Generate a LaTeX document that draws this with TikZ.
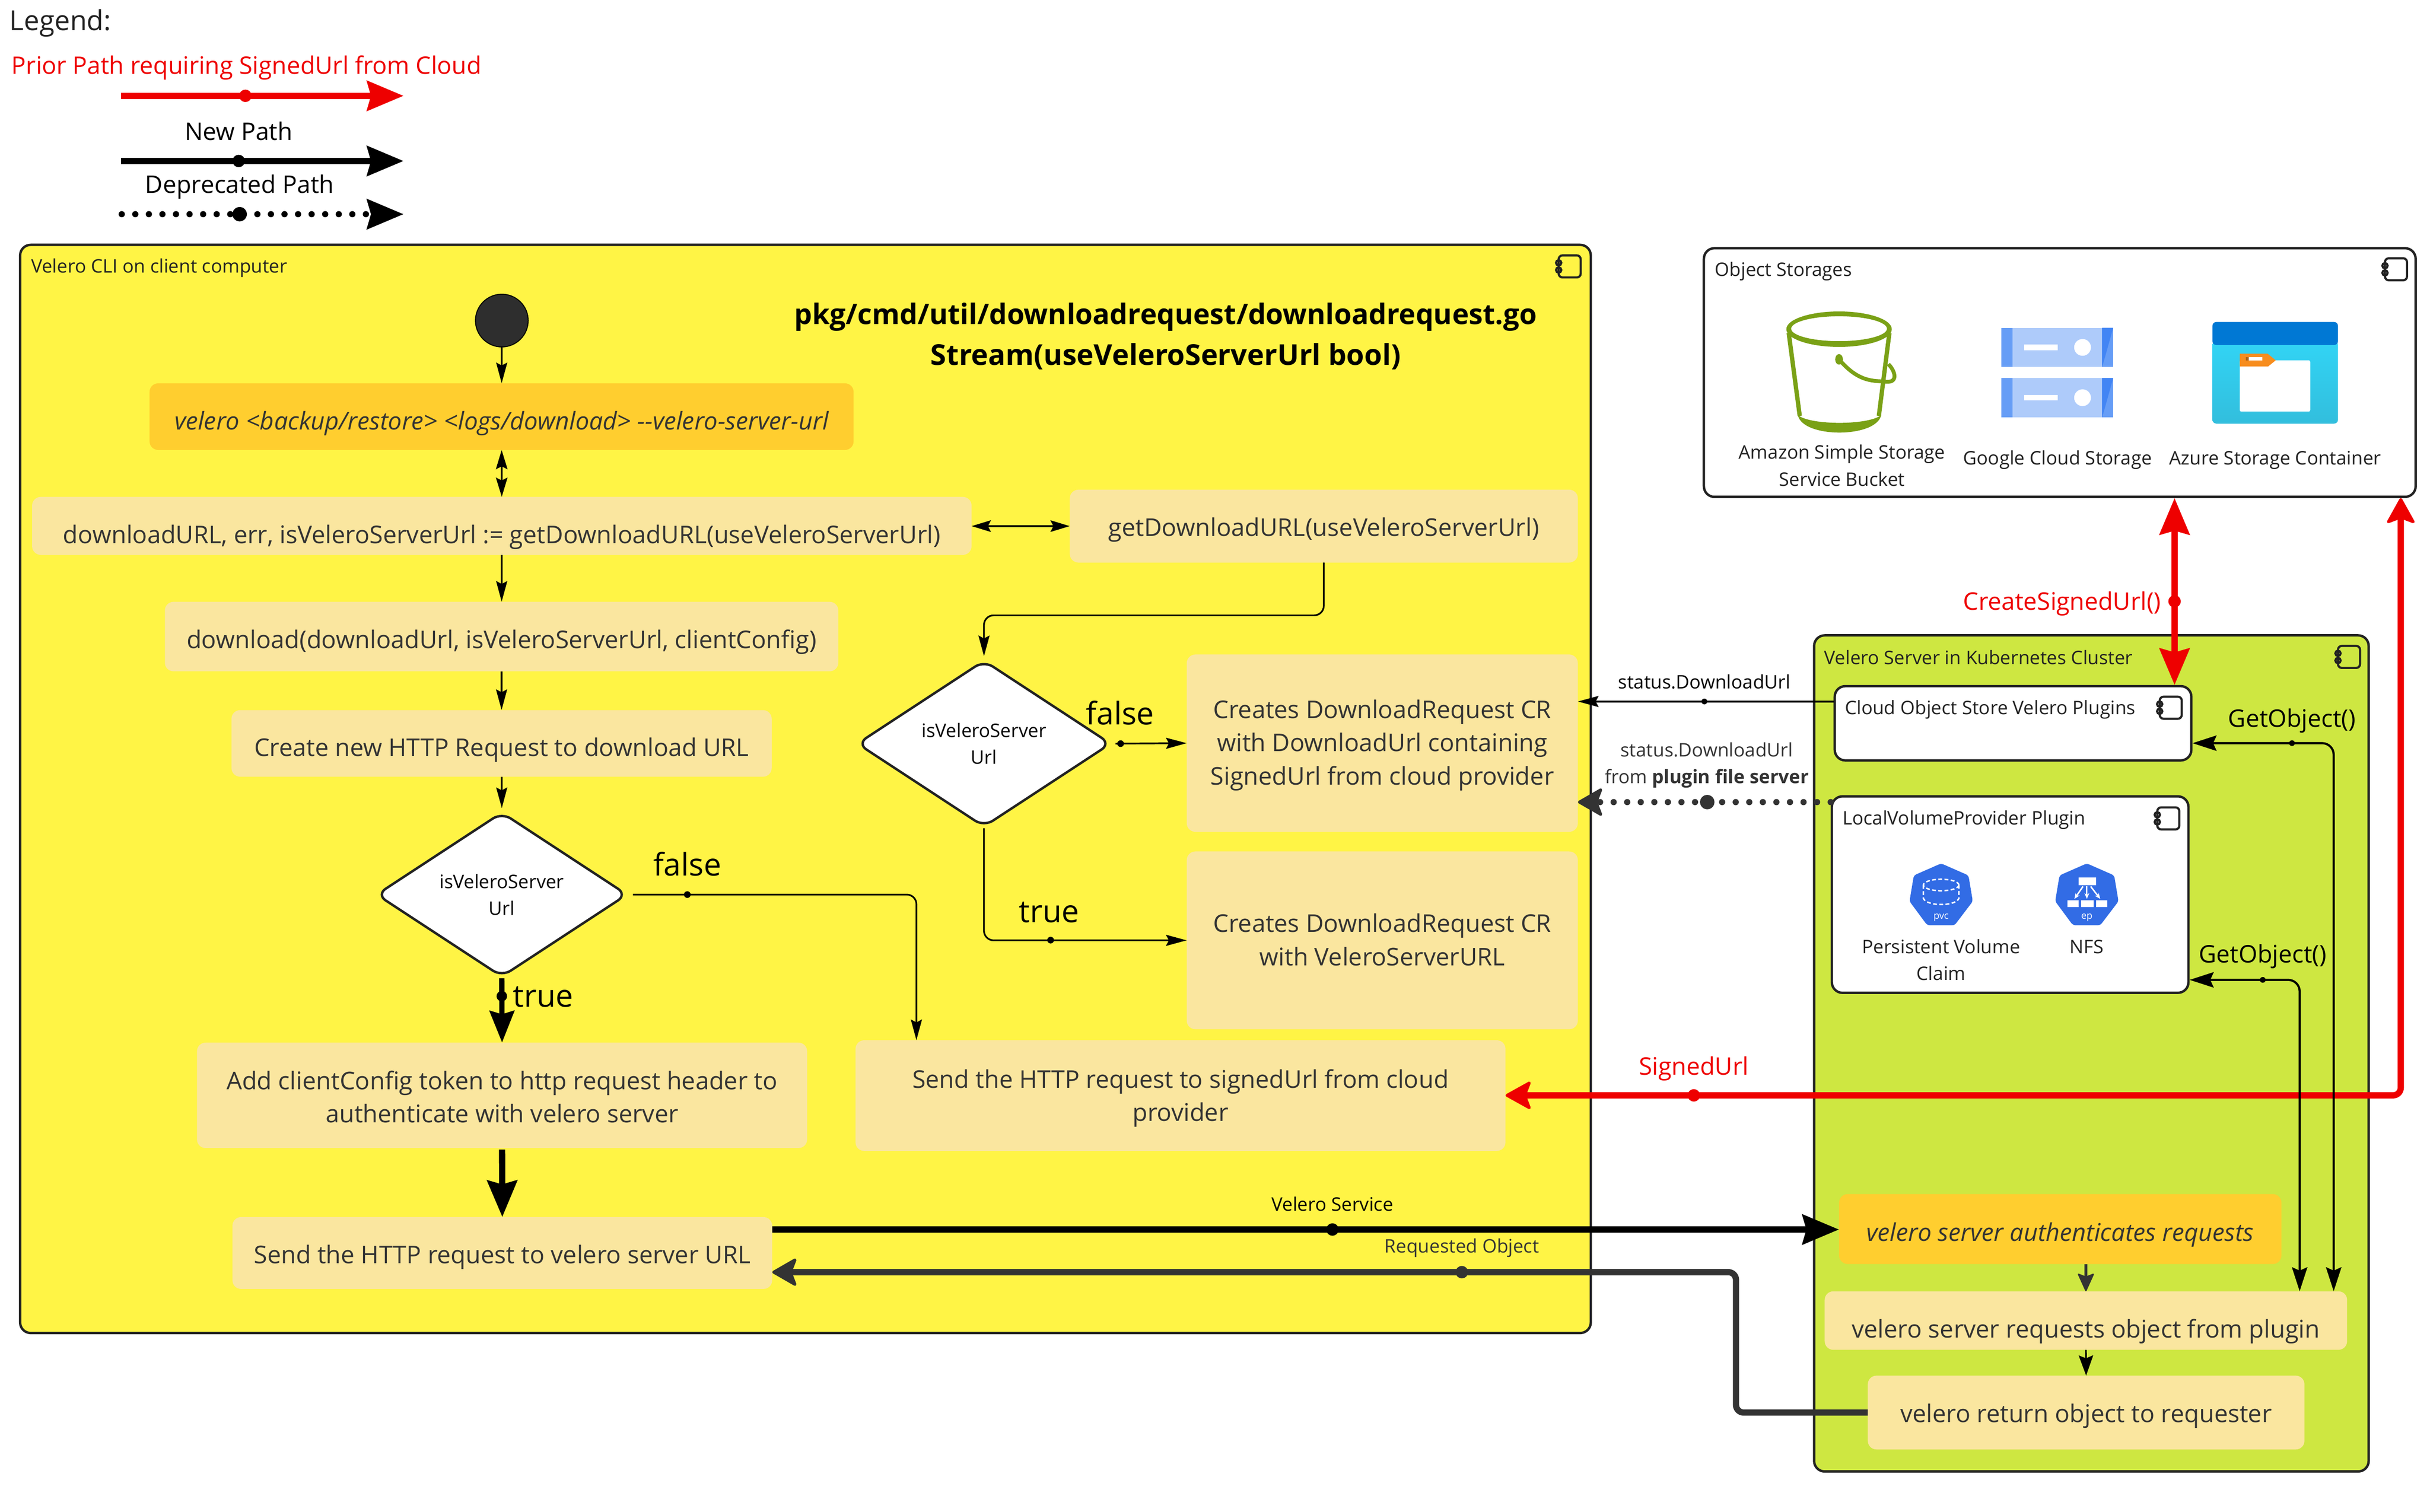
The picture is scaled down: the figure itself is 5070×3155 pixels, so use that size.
\documentclass[tikz,border=0pt]{standalone}
\usepackage{fontspec}
\setmainfont{Open Sans}
\usetikzlibrary{arrows.meta,shapes.geometric,calc}
\definecolor{cyel}{HTML}{FFF445}
\definecolor{cgrn}{HTML}{CEE741}
\definecolor{ccrm}{HTML}{FAE69F}
\definecolor{corg}{HTML}{FFCE2F}
\definecolor{cdk}{HTML}{333333}
\definecolor{cbd}{HTML}{222222}
\definecolor{cred}{HTML}{EE0000}
\definecolor{kblue}{HTML}{326CE5}
\definecolor{cbkt}{HTML}{7AA116}
\definecolor{gl}{HTML}{AECBFA}
\definecolor{gm}{HTML}{669DF6}
\definecolor{gd}{HTML}{4285F4}
\definecolor{azb}{HTML}{0078D4}
\definecolor{azt}{HTML}{32D4F5}
\definecolor{azl}{HTML}{32BEDD}
\definecolor{azo}{HTML}{F78D1E}
\newcommand{\bx}[7][]{%
  \pgfmathsetmacro\bxw{#5-(#3)}\pgfmathsetmacro\bxh{#6-(#4)}%
  \node[minimum width=\bxw pt,minimum height=\bxh pt,inner sep=0pt,#1] (#2) at ({(#3+#5)/2},{(#4+#6)/2}) {#7};}
\newcommand{\tx}[5][]{\node[anchor=base,inner sep=0pt,#1] (#2) at (#3,#4) {#5};}
\newcommand{\compicon}[2]{% right top
  \begin{scope}[shift={(#1,#2)}]
    \draw[cbd,line width=4.5pt,rounded corners=8pt] (-46,0) rectangle (0,46);
    \draw[cbd,line width=4.5pt] (-46,15.5) circle (5.5);
    \draw[cbd,line width=4.5pt] (-46,30.5) circle (5.5);
  \end{scope}}
\newcommand{\kube}[2]{% cx, inner
  \begin{scope}[shift={(#1,0)}]
  \fill[kblue,rounded corners=5pt] (0,1802)--(57,1827)--(66,1881)--(28,1931)--(-29,1931)--(-66,1881)--(-57,1827)--cycle;
  #2
  \end{scope}}
\tikzset{
  f39/.style={font=\fontsize{39}{56}\selectfont},
  f50/.style={font=\fontsize{50.5}{69}\selectfont},
  f51/.style={font=\fontsize{51}{69.5}\selectfont},
  f51i/.style={font=\fontsize{51}{69.5}\selectfont\itshape},
  f58/.style={font=\fontsize{57.5}{72}\selectfont},
  f65/.style={font=\fontsize{65}{80}\selectfont},
  fbig/.style={font=\fontsize{59}{84}\selectfont\bfseries},
  tb/.style={text depth=0pt,text height=#1pt},
  cont/.style={draw=cbd,line width=5pt,rounded corners=22pt},
  flow/.style={fill=ccrm,text=cdk,rounded corners=18pt,align=center,f51},
  flowo/.style={fill=corg,text=cdk,rounded corners=18pt,align=center,f51i},
  dec/.style={diamond,aspect=1.5,draw=cbd,fill=white,line width=5pt,rounded corners=22pt,align=center,f39},
  thinA/.style={draw=black,line width=3.5pt,rounded corners=20pt,-{Stealth[length=43pt,width=23pt,inset=6pt]}},
  thinB/.style={draw=black,line width=3.5pt,{Stealth[length=40pt,width=24pt,inset=6pt]}-{Stealth[length=40pt,width=24pt,inset=6pt]}},
  thinC/.style={draw=black,line width=4.5pt,rounded corners=24pt,{Stealth[length=50pt,width=32pt,inset=7pt]}-{Stealth[length=50pt,width=32pt,inset=7pt]}},
  fatA/.style={draw=black,line width=13pt,-{Stealth[length=76pt,width=62pt,inset=8pt]}},
  redA/.style={draw=cred,line width=13pt,{Stealth[length=76pt,width=62pt,inset=8pt]}-{Stealth[length=76pt,width=62pt,inset=8pt]}},
  redB/.style={draw=cred,line width=13pt,rounded corners=16pt,{Stealth[length=58pt,width=64pt,inset=12pt,round,line width=6pt]}-{Stealth[length=58pt,width=64pt,inset=12pt,round,line width=6pt]}},
  dkA/.style={draw=cdk,line width=13pt,rounded corners=16pt,-{Stealth[length=56pt,width=64pt,inset=12pt,round,line width=6pt]}},
  dotA/.style={line width=13pt,line cap=round,dash pattern=on 0pt off 28.3pt,-{Stealth[length=76pt,width=62pt,inset=8pt]}},
  dotB/.style={draw=cdk,line width=13pt,line cap=round,dash pattern=on 0pt off 28.3pt,-{Stealth[length=56pt,width=64pt,inset=12pt,round,line width=6pt]}},
}
\begin{document}
\begin{tikzpicture}[x=1pt,y=-1pt]
\path[use as bounding box,fill=white] (0,0) rectangle (5070,3155);

% ---- legend
\tx[anchor=base west,f58,text=cbd]{tLegend}{20}{63}{Legend:}
\tx[anchor=base west,font=\fontsize{50.4}{69}\selectfont,text=cred]{tPrior}{24}{155}{Prior Path requiring SignedUrl from Cloud}
\coordinate (la1) at (252,200); \coordinate (la2) at (842,200);
\draw[fatA,cred] (la1) -- (la2);
\fill[cred] (512,200) circle (13);
\tx[f50,text=black]{tNew}{498}{293}{New Path}
\coordinate (lb1) at (252,336); \coordinate (lb2) at (842,336);
\draw[fatA] (lb1) -- (lb2);
\fill[black] (498,336) circle (13);
\tx[f50,text=black]{tDep}{500}{403}{Deprecated Path}
\coordinate (lc1) at (254,447); \coordinate (lc2) at (842,447);
\draw[dotA,black] (lc1) -- (lc2);
\fill[black] (500,447) circle (15);

% ---- containers
\bx[cont,fill=cyel]{cli}{42}{511}{3319}{2782}{}
\tx[anchor=base west,f39,text=cbd]{tCli}{65}{569}{Velero CLI on client computer}
\compicon{3298}{533}
\bx[cont,fill=white]{objs}{3555}{518}{5040}{1037}{}
\tx[anchor=base west,f39,text=cbd]{tObjs}{3578}{576}{Object Storages}
\compicon{5022}{539}
\bx[cont,fill=cgrn]{srv}{3785}{1326}{4942}{3071}{}
\tx[anchor=base west,f39,text=cbd]{tSrv}{3806}{1387}{Velero Server in Kubernetes Cluster}
\compicon{4924}{1348}
\bx[cont,fill=white]{cloud}{3828}{1432}{4572}{1587}{}
\tx[anchor=base west,f39,text=cbd]{tCloud}{3849}{1491}{Cloud Object Store Velero Plugins}
\compicon{4552}{1454}
\bx[cont,fill=white]{lvp}{3822}{1662}{4566}{2072}{}
\tx[anchor=base west,f39,text=cbd]{tLvp}{3844}{1721}{LocalVolumeProvider Plugin}
\compicon{4547}{1685}

% ---- bucket icon
\fill[cbkt,even odd rule] (3837,687) ellipse (110 and 37) (3837,686) ellipse (100 and 26);
\draw[cbkt,line width=9pt] (3732,695) -- (3755,868);
\draw[cbkt,line width=9pt] (3942,695) -- (3920,868);
\fill[cbkt] (3751,866) .. controls (3760,915) and (3915,915) .. (3925,866) .. controls (3900,888) and (3775,888) .. (3751,866) -- cycle;
\fill[cbkt] (3837,750) ellipse (8 and 11);
\draw[cbkt,line width=8pt] (3837,750) .. controls (3875,795) and (3905,795) .. (3930,796) .. controls (3962,802) and (3955,775) .. (3940,760);
\tx[f39,text=cbd,align=center]{tAws}{3843}{1014}{Amazon Simple Storage\\Service Bucket}
% ---- google icon
\foreach \yy/\yb in {684/766,789/871} {
  \fill[gl] (4176,\yy) rectangle (4409,\yb);
  \fill[gm] (4176,\yy) rectangle (4199,\yb);
  \fill[gm] (4386,\yy) rectangle (4409,\yb);
  \fill[gd] (4386,\yb) -- (4409,\yy) -- (4386,\yy) -- cycle;
  \fill[white] (4223,\yy+35) rectangle (4293,\yy+47);
  \fill[white] (4345,\yy+41) circle (17.5);
}
\tx[f39,text=cbd]{tGoog}{4293}{970}{Google Cloud Storage}
% ---- azure icon
\shade[top color=azt,bottom color=azl,rounded corners=8pt] (4616,712) rectangle (4878,884);
\fill[azb,rounded corners=8pt] (4616,720) -- (4616,672) -- (4878,672) -- (4878,720) -- cycle;
\fill[white,rounded corners=3pt] (4673,752) rectangle (4820,859);
\fill[azo] (4673,738) -- (4731,738) -- (4748,752) -- (4732,765) -- (4673,765) -- cycle;
\fill[white] (4692,745) rectangle (4720,752);
\fill[azo!70!black] (4686,745) rectangle (4692,752);
\tx[f39,text=cbd]{tAz}{4747}{970}{Azure Storage Container}

% ---- k8s icons
\kube{4050}{
  \draw[white,line width=3pt,dash pattern=on 8pt off 5pt] (0,1847) ellipse (37 and 12);
  \draw[white,line width=3pt,dash pattern=on 8pt off 5pt] (-37,1847) -- (-37,1875) .. controls (-30,1892) and (30,1892) .. (37,1875) -- (37,1847);
  \node[white,font=\fontsize{20}{24}\selectfont,inner sep=0pt] (tPvc) at (0,1915) {pvc};
}
\kube{4354}{
  \fill[white] (-17,1831) rectangle (19,1847);
  \foreach \xa/\xb in {-40/-17,-12/14,19/43} {\fill[white] (\xa,1879) rectangle (\xb,1893);}
  \draw[white,line width=3pt,-{Stealth[length=12pt,width=10pt]}] (-8,1850) -- (-26,1876);
  \draw[white,line width=3pt,-{Stealth[length=12pt,width=10pt]}] (0,1850) -- (0,1876);
  \draw[white,line width=3pt,-{Stealth[length=12pt,width=10pt]}] (8,1850) -- (28,1876);
  \node[white,font=\fontsize{20}{24}\selectfont,inner sep=0pt] (tEp) at (0,1915) {ep};
}
\tx[f39,text=cbd,align=center]{tPv}{4050}{2046}{Persistent Volume\\Claim}
\tx[f39,text=cbd]{tNfs}{4354}{1990}{NFS}

% ---- titles
\tx[fbig,text=black]{tT1}{2432}{677}{pkg/cmd/util/downloadrequest/downloadrequest.go}
\tx[fbig,font=\fontsize{60}{84}\selectfont\bfseries,text=black]{tT2}{2432}{762}{Stream(useVeleroServerUrl bool)}

% ---- flow nodes, CLI
\node[circle,fill=cdk!90!black,draw=black,line width=2pt,minimum size=110pt,inner sep=0pt] (start) at (1047,669) {};
\bx[flowo,tb=55]{cmd}{312}{800}{1781}{939}{velero <backup/restore> <logs/download> {-}{-}velero-server-url}
\bx[flow,tb=74]{dlurl}{67}{1037}{2027}{1158}{downloadURL, err, isVeleroServerUrl := getDownloadURL(useVeleroServerUrl)}
\bx[flow,tb=41]{getdl}{2232}{1022}{3292}{1174}{getDownloadURL(useVeleroServerUrl)}
\bx[flow,tb=50]{dload}{344}{1256}{1749}{1401}{download(downloadUrl, isVeleroServerUrl, clientConfig)}
\bx[flow,tb=54]{newreq}{483}{1482}{1610}{1621}{Create new HTTP Request to download URL}
\node[dec,minimum width=524pt,minimum height=344pt,inner sep=0pt] (dia1) at (1047,1867) {isVeleroServer\\Url};
\node[dec,minimum width=530pt,minimum height=348pt,inner sep=0pt] (dia2) at (2053,1552) {isVeleroServer\\Url};
\bx[flow,tb=174]{cr1}{2476}{1366}{3292}{1736}{Creates DownloadRequest CR\\with DownloadUrl containing\\SignedUrl from cloud provider}
\bx[flow,tb=105]{cr2}{2476}{1777}{3292}{2148}{Creates DownloadRequest CR\\with VeleroServerURL}
\bx[flow,tb=114]{addcfg}{411}{2176}{1684}{2396}{Add clientConfig token to http request header to\\authenticate with velero server}
\bx[flow,tb=107]{sendsig}{1785}{2171}{3141}{2402}{Send the HTTP request to signedUrl from cloud\\provider}
\bx[flow,tb=44]{sendvel}{485}{2540}{1611}{2690}{Send the HTTP request to velero server URL}
% ---- flow nodes, server
\bx[flowo,tb=50]{auth}{3837}{2492}{4760}{2638}{velero server authenticates requests}
\bx[flow,tb=72]{reqobj}{3807}{2695}{4897}{2817}{velero server requests object from plugin}
\bx[flow,tb=40]{retobj}{3897}{2871}{4808}{3025}{velero return object to requester}

% ---- connector helpers
\coordinate (yV) at (0,2566);
\coordinate (yR) at (0,2655);
\coordinate (rk) at (3622,2948);
\coordinate (xCs) at (4537,0);
\coordinate (xSu) at (5009,0);
\coordinate (ySu) at (0,2286);
\coordinate (xG1) at (4869,0);
\coordinate (xG2) at (4798,0);
\coordinate (yG1) at (0,1551);
\coordinate (yG2) at (0,2045);
\coordinate (yS1) at (0,1464);
\coordinate (yS2) at (0,1674);
\coordinate (xF1) at (1912,0);

% ---- connectors, CLI
\draw[thinA] (start) -- (cmd);
\draw[thinB] (cmd) -- (dlurl);
\draw[thinB] (dlurl.east |- getdl.west) -- (getdl.west);
\draw[thinA] (dlurl) -- (dload);
\draw[thinA] (dload) -- (newreq);
\draw[thinA,shorten >=6pt] (newreq) -- (dia1.north);
\draw[thinA,shorten >=6pt] (getdl.south) -- ++(0,110) -| (dia2.north);
\draw[thinA,shorten <=7pt] (dia2.east) -- (cr1.west);
\fill[black] (2338,1552) circle (7);
\draw[thinA] (dia2.south) |- (cr2.west);
\fill[black] (2192,1962) circle (7);
\draw[thinA,shorten <=9pt] (dia1.east) -| (sendsig.north -| xF1);
\fill[black] (1434,1867) circle (7);
\draw[draw=black,line width=11pt,-{Stealth[length=66pt,width=51pt,inset=7pt]}] (dia1.south) -- (addcfg.north);
\fill[black] (1047,2079) circle (11);
\draw[fatA,shorten <=3pt] (addcfg.south) -- (sendvel.north);
\draw[fatA] (sendvel.east |- yV) -- (auth.west |- yV);
\fill[black] (2780,2566) circle (13);
\draw[dkA] (retobj.west) -- (rk) |- (sendvel.east |- yR);
\fill[cdk] (3050,2655) circle (13);

% ---- connectors, object storage
\draw[redA] (objs.south -| xCs) -- (cloud.north -| xCs);
\fill[cred] (4537,1255) circle (13);
\draw[redB] (objs.south -| xSu) |- (sendsig.east |- ySu);
\fill[cred] (3534,2286) circle (13);
\draw[thinA] (cloud.west |- yS1) -- (cr1.east |- yS1);
\fill[black] (3556,1464) circle (6);
\draw[dotB] (lvp.west |- yS2) -- (cr1.east |- yS2);
\fill[cdk] (3562,1674) circle (15);
\draw[thinC] (cloud.east |- yG1) -| (reqobj.north -| xG1);
\fill[black] (4782,1551) circle (6);
\draw[thinC] (lvp.east |- yG2) -| (reqobj.north -| xG2);
\fill[black] (4721,2045) circle (6);
\draw[draw=cdk,line width=6pt,-{Stealth[length=40pt,width=36pt,inset=7pt,round,line width=3pt]}] (auth.south -| reqobj.north) -- (reqobj.north);
\draw[draw=black,line width=3.5pt,-{Stealth[length=42pt,width=30pt,inset=6pt]}] (reqobj.south) -- (retobj.north);

% ---- connector labels
\tx[f65,text=black]{lF1}{1434}{1828}{false}
\tx[f65,text=black]{lF2}{2337}{1512}{false}
\tx[f65,text=black,anchor=base west]{lT1}{1070}{2101}{true}
\tx[f65,text=black]{lT2}{2189}{1925}{true}
\tx[f39,text=black]{lVs}{2780}{2527}{Velero Service}
\tx[f39,text=cdk]{lRo}{3050}{2615}{Requested Object}
\tx[f50,text=cred,anchor=base east]{lCs}{4509}{1273}{CreateSignedUrl()}
\tx[f50,text=cred]{lSu}{3534}{2243}{SignedUrl}
\tx[f39,text=black]{lSt1}{3556}{1437}{status.DownloadUrl}
\tx[f39,text=cdk,align=center]{lSt2}{3561}{1635}{status.DownloadUrl\\from \textbf{plugin file server}}
\tx[f50,text=black]{lG1}{4782}{1517}{GetObject()}
\tx[f50,text=black]{lG2}{4721}{2009}{GetObject()}
\end{tikzpicture}
\end{document}
